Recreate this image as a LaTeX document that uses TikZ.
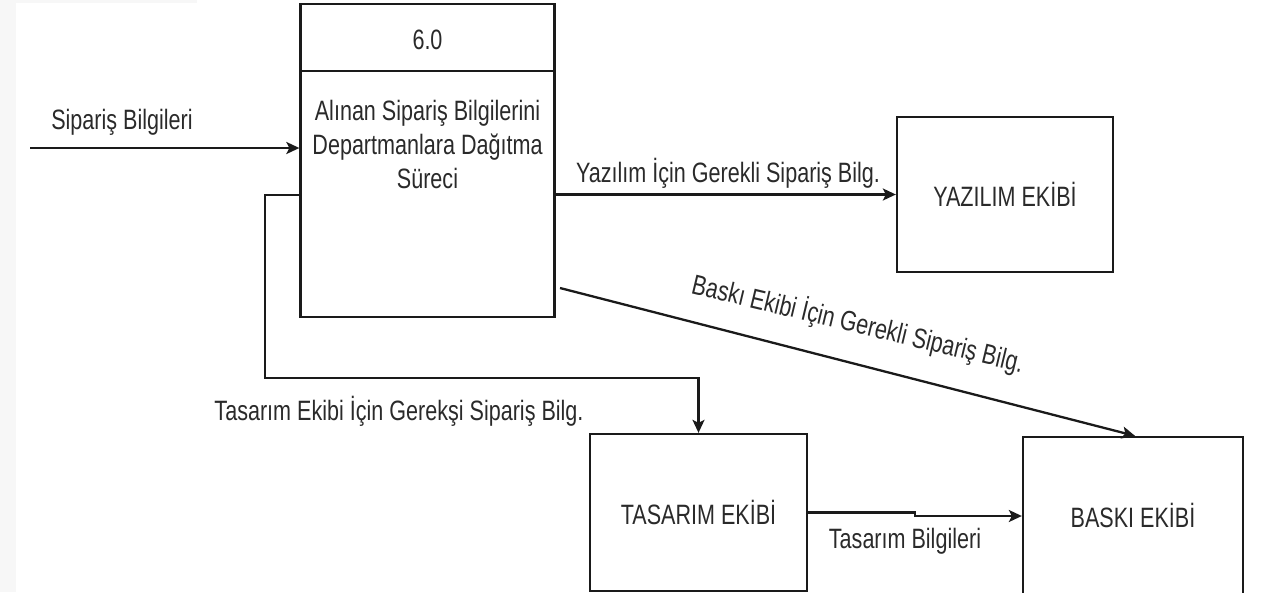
\documentclass[tikz,border=0pt]{standalone}
\usepackage{fontspec}
\setmainfont{Liberation Sans}[FakeStretch=0.77]
\usetikzlibrary{arrows.meta}
\definecolor{strip}{HTML}{F7F7F7}
\definecolor{ink}{HTML}{1A1A1A}
\definecolor{txt}{HTML}{2A2A2A}
\tikzset{
  box/.style={draw=ink, line width=2.3pt, fill=white, inner sep=0pt,
    text height=23pt, text depth=0pt, text=txt,
    font=\fontsize{28}{34}\selectfont},
  lbl/.style={inner sep=0pt, text=txt, font=\fontsize{28}{34}\selectfont},
  flow/.style={draw=ink, line width=2.3pt,
    -{Stealth[length=13pt,width=12pt,inset=3pt]}},
  plain/.style={draw=ink, line width=2.3pt}
}
\begin{document}
\begin{tikzpicture}[x=1pt,y=-1pt]
\useasboundingbox (0,0) rectangle (1261,592);
\fill[strip] (0,0) rectangle (16,592);
\fill[strip] (16,0) rectangle (197,3);

% process box
\node[box, minimum width=254pt, minimum height=313pt] (proc) at (427.5,160.5) {};
\draw[plain] (proc.west |- 0,71) -- (proc.east |- 0,71);
\node[lbl, anchor=base] (pnum) at (427.5,49) {6.0};
\node[lbl, anchor=base] (pt1) at (427.5,120) {Alınan Sipariş Bilgilerini};
\node[lbl, anchor=base] (pt2) at (427.5,154) {Departmanlara Dağıtma};
\node[lbl, anchor=base] (pt3) at (427.5,188) {Süreci};

% entity boxes
\node[box, minimum width=216pt, minimum height=155pt] (yaz) at (1005,194.5) {YAZILIM EKİBİ};
\node[box, minimum width=217pt, minimum height=157pt] (tas) at (698.5,512.5) {TASARIM EKİBİ};
\node[box, minimum width=220pt, minimum height=158pt] (bas) at (1133,516) {BASKI EKİBİ};

% input flow
\coordinate (src) at (30,148);
\draw[flow] (src) -- (src -| proc.west);
\node[lbl, anchor=base] (lin) at (122,129) {Sipariş Bilgileri};

% to Yazilim
\draw[flow] (proc.east |- yaz.west) -- (yaz.west);
\node[lbl, anchor=base] (lyaz) at (728,182) {Yazılım İçin Gerekli Sipariş Bilg.};

% to Baski (diagonal)
\coordinate (bst) at (560,288);
\draw[flow] (bst) -- ([xshift=2pt]bas.north);
\node[lbl, rotate=-13.5] (lbas) at (858,324) {Baskı Ekibi İçin Gerekli Sipariş Bilg.};

% to Tasarim (routed)
\coordinate (t0) at (proc.west |- 0,195);
\coordinate (t1) at (265,195);
\coordinate (t2) at (265,378);
\draw[flow] (t0) -- (t1) -- (t2) -| (tas.north);
\node[lbl, anchor=base] (ltas) at (399,420) {Tasarım Ekibi İçin Gerekşi Sipariş Bilg.};

% Tasarim -> Baski
\coordinate (k) at (915,512.5);
\draw[flow] (tas.east) -- (k) |- (bas.west);
\node[lbl, anchor=base] (ltb) at (905,548) {Tasarım Bilgileri};
\end{tikzpicture}
\end{document}
